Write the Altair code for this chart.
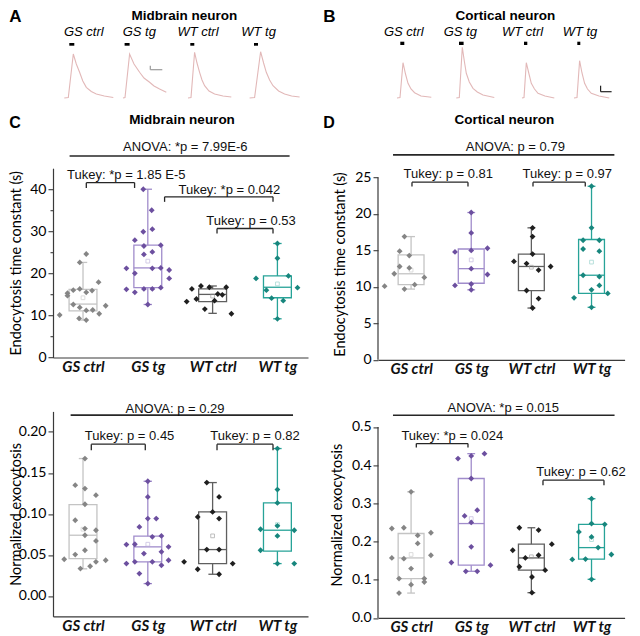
import altair as alt
import pandas as pd

GROUPS = ["GS ctrl", "GS tg", "WT ctrl", "WT tg"]
POINT_COLORS = ["#858585", "#6c4f9f", "#1f1f1f", "#17867d"]
BOX_COLORS = ["#c4c4c4", "#a08ccb", "#5f5f5f", "#27a398"]
MEAN_COLORS = ["#c8c8c8", "#bcb0da", "#9a9a9a", "#8fcfc8"]
TRACE_COLOR = "#e2b8b8"

# ---------------- Panel A / B : example traces (arbitrary units) ----------------
A_TRACE_ONSET = [11.3, 70.0, 135.0, 196.6]
A_TRACE_T = [
    [0, 4, 9, 12, 15.3, 18.5, 22, 27, 32, 40, 49],
    [0, 2, 6.6, 11, 16.6, 21, 26.6, 31, 36.6, 43.3],
    [0, 3, 6.6, 9, 11.6, 14, 16.6, 21, 26.6, 35, 43.3],
    [0, 5, 11, 14, 16.7, 20, 23.4, 29, 35, 42, 50],
]
A_TRACE_AMP = [
    [0, 0.5, 44, 34, 25.7, 17, 10.7, 6.5, 4, 2, 0.5],
    [0, 0.5, 44, 34, 25.7, 20, 15.7, 12, 9, 5.7],
    [0, 0.5, 45.7, 35, 25.7, 18, 12.3, 7, 4, 2, 1],
    [0, 0.5, 46.3, 35, 25.7, 18, 12.3, 7, 4, 2, 1],
]
A_STIM_ON = [16.3, 71.6, 137.3, 201.0]
A_STIM_OFF = [21.3, 76.6, 141.3, 205.0]
A_STIM_AMP = [52.3, 55.0]
A_LABEL_X = [30.8, 86.3, 145.0, 205.6]
A_SCALEBAR = [97.3, 109.3, 28.3, 32.3]

B_TRACE_ONSET = [19.0, 78.3, 144.0, 196.0]
B_TRACE_T = [
    [0, 3, 6, 8.5, 11, 14, 17.6, 24, 34.3],
    [0, 3, 6, 8, 10, 13, 16.7, 21, 26.7, 38],
    [0, 2, 4.3, 7, 9.3, 12.5, 16, 23, 32.3],
    [0, 3, 5.6, 8, 10.6, 13.5, 17.3, 25, 35.3],
]
B_TRACE_AMP = [
    [0, 0.5, 35.3, 24, 14.7, 9, 5.3, 2, 0.7],
    [0, 0.5, 50.7, 37, 24.7, 16, 9.7, 6, 3, 0.5],
    [0, 0.5, 35.3, 24, 14.7, 9, 4.7, 2, 0],
    [0, 0.5, 37.3, 25, 14.7, 9, 4.7, 2, 0],
]
B_STIM_ON = [22.3, 81.0, 146.0, 199.3]
B_STIM_OFF = [26.3, 85.6, 149.3, 202.3]
B_STIM_AMP = [53.0, 56.3]
B_LABEL_X = [25.8, 82.3, 144.6, 202.0]
B_SCALEBAR = [222.6, 233.6, 6.3, 12.3]
TRACE_LABEL_AMP = 66

# ---------------- Panel C (top): midbrain endocytosis tau (s) ----------------
C_TAU_VALUES = [
    [10.1, 15.3, 14.7, 16.0, 12.6, 16.3, 11.9, 9.3, 8.9, 15.5, 11.2, 22.6, 24.6, 15.9, 11.3, 17.9, 10.4, 12.3],
    [21.2, 20.0, 29.9, 30.5, 27.9, 26.5, 24.5, 25.1, 26.7, 21.2, 21.3, 20.8, 18.8, 16.2, 15.5, 16.3, 16.3, 16.6, 12.6, 40.0, 35.0],
    [13.3, 16.3, 13.9, 17.0, 11.5, 16.7, 15.1, 13.5, 14.9, 16.7, 10.4],
    [18.8, 16.0, 14.1, 27.1, 23.6, 9.2, 13.5, 19.4, 16.6],
]
C_TAU_JITTER = [
    [-0.36, -0.24, -0.24, -0.15, -0.15, -0.05, -0.05, -0.06, 0.05, 0.05, 0.05, -0.05, 0.05, 0.14, 0.15, 0.24, 0.25, 0.35],
    [-0.33, -0.20, -0.07, 0.07, -0.20, -0.06, -0.06, 0.07, 0.20, 0.07, 0.20, 0.33, 0.33, -0.33, -0.20, -0.06, 0.07, 0.20, 0.0, -0.07, 0.06],
    [-0.40, -0.32, -0.25, -0.18, -0.12, -0.05, 0.08, 0.03, 0.15, 0.21, 0.29],
    [-0.33, -0.17, -0.09, 0.0, 0.0, 0.0, 0.09, 0.17, 0.31],
]
# [whisker low, Q1, median, Q3, whisker high, mean]
C_TAU_STATS = [
    [8.9, 11.1, 12.7, 16.2, 22.6, 14.2],
    [12.6, 16.6, 21.3, 26.7, 40.0, 22.9],
    [10.5, 13.3, 15.0, 16.3, 17.0, 14.6],
    [9.2, 14.2, 16.7, 19.4, 27.1, 17.5],
]
C_TAU_ANOVA = ["ANOVA: *p = 7.99E-6", -0.207, 3.188, 47.9, 1.579, 50.0]
C_TAU_TUKEY = [
    ["Tukey: *p = 1.85 E-5", 0.051, 0.796, 41.57, 40.3, 0.668, 43.5],
    ["Tukey: *p = 0.042", 1.259, 2.932, 38.2, 37.0, 2.258, 39.9],
    ["Tukey: p = 0.53", 2.068, 2.932, 30.66, 29.5, 2.593, 32.4],
]

# ---------------- Panel D (top): cortical endocytosis tau (s) ----------------
D_TAU_VALUES = [
    [10.1, 11.8, 14.9, 16.9, 12.8, 9.7, 12.6, 14.3, 10.3, 11.3],
    [10.2, 14.8, 20.2, 17.4, 15.0, 12.5, 10.4, 9.6, 15.3, 11.7],
    [13.5, 13.2, 18.1, 16.9, 14.5, 12.3, 12.8, 9.5, 8.4, 7.1],
    [23.8, 18.1, 16.4, 16.4, 15.2, 14.9, 11.6, 11.4, 10.2, 9.6, 8.5, 9.1, 7.2],
]
D_TAU_JITTER = [
    [-0.44, -0.28, -0.19, -0.11, -0.19, -0.11, -0.03, -0.03, 0.06, 0.22],
    [-0.27, -0.27, 0.0, 0.0, 0.0, 0.0, 0.0, 0.0, 0.27, 0.27],
    [-0.29, -0.08, 0.02, 0.02, 0.02, 0.12, 0.32, -0.08, 0.12, 0.02],
    [0.0, 0.0, -0.14, 0.13, -0.14, 0.13, -0.14, 0.13, 0.13, 0.0, -0.29, 0.27, 0.0],
]
D_TAU_STATS = [
    [9.7, 10.3, 11.8, 14.4, 16.9, 12.3],
    [9.6, 10.5, 12.5, 15.2, 20.2, 13.7],
    [7.1, 9.5, 12.8, 14.5, 18.1, 12.7],
    [7.2, 9.1, 11.6, 16.5, 23.8, 13.4],
]
D_TAU_ANOVA = ["ANOVA: p = 0.79", -0.30, 3.38, 28.11, 1.733, 29.25]
D_TAU_TUKEY = [
    ["Tukey: p = 0.81", 0.015, 0.946, 24.36, 23.77, 0.619, 25.5],
    ["Tukey: p = 0.97", 2.027, 2.896, 24.36, 23.77, 2.597, 25.5],
]

# ---------------- Panel C (bottom): midbrain normalized exocytosis ----------------
C_EXO_VALUES = [
    [0.0447, 0.135, 0.0923, 0.0504, 0.0333, 0.1675, 0.1309, 0.1118, 0.0821, 0.074, 0.0557, 0.0362, 0.1228, 0.0801, 0.0671, 0.0415, 0.0435],
    [0.0626, 0.0394, 0.063, 0.0415, 0.0841, 0.0272, 0.0516, 0.1398, 0.1207, 0.0943, 0.015, 0.072, 0.0415, 0.0943, 0.0732, 0.0537, 0.0374, 0.0598, 0.0435],
    [0.0415, 0.0325, 0.0963, 0.1382, 0.0565, 0.1024, 0.0943, 0.0565, 0.0264, 0.1207, 0.0394],
    [0.0557, 0.0813, 0.1797, 0.1297, 0.1134, 0.0854, 0.0732, 0.0394, 0.0801, 0.0394],
]
C_EXO_JITTER = [
    [-0.29, -0.12, -0.12, -0.12, -0.04, 0.03, 0.03, 0.03, 0.03, 0.03, 0.03, 0.11, 0.2, 0.2, 0.2, 0.2, 0.35],
    [-0.33, -0.33, -0.2, -0.2, -0.13, -0.13, -0.06, 0.0, 0.0, 0.0, 0.0, 0.07, 0.07, 0.13, 0.21, 0.21, 0.21, 0.32, 0.32],
    [-0.44, -0.23, -0.23, -0.09, -0.09, 0.0, 0.1, 0.1, 0.1, 0.1, 0.31],
    [-0.26, -0.26, 0.0, 0.0, 0.0, 0.0, 0.0, 0.0, 0.26, 0.26],
]
C_EXO_STATS = [
    [0.033, 0.0455, 0.074, 0.1114, 0.1675, 0.0813],
    [0.015, 0.0415, 0.0598, 0.0728, 0.1398, 0.063],
    [0.0264, 0.0394, 0.0565, 0.1024, 0.1382, 0.0732],
    [0.0394, 0.0545, 0.0801, 0.1134, 0.1797, 0.087],
]
C_EXO_ANOVA = ["ANOVA: p = 0.29", -0.191, 3.241, 0.2204, 1.42, 0.2284]
C_EXO_TUKEY = [
    ["Tukey: p = 0.45", 0.128, 0.961, 0.185, 0.1777, 0.719, 0.195],
    ["Tukey: p = 0.82", 2.068, 2.932, 0.185, 0.1777, 2.654, 0.195],
]

# ---------------- Panel D (bottom): cortical normalized exocytosis ----------------
D_EXO_VALUES = [
    [0.234, 0.157, 0.103, 0.065, 0.236, 0.155, 0.33, 0.129, 0.087, 0.216, 0.195, 0.103, 0.094, 0.223, 0.164],
    [0.145, 0.417, 0.122, 0.424, 0.365, 0.25, 0.186, 0.267, 0.282, 0.122, 0.43, 0.138],
    [0.177, 0.236, 0.134, 0.157, 0.107, 0.066, 0.164, 0.23, 0.125, 0.193],
    [0.153, 0.225, 0.154, 0.312, 0.247, 0.212, 0.101, 0.184, 0.245, 0.166],
]
D_EXO_JITTER = [
    [-0.32, -0.32, -0.2, -0.2, -0.12, -0.12, 0.0, 0.0, 0.0, 0.11, 0.11, 0.22, 0.22, 0.33, 0.33],
    [-0.33, -0.22, -0.09, 0.0, 0.0, 0.0, 0.0, -0.11, 0.1, 0.1, 0.22, 0.32],
    [-0.31, -0.2, -0.2, -0.1, 0.01, 0.01, 0.12, 0.12, 0.23, 0.34],
    [-0.32, -0.21, -0.1, 0.0, 0.0, 0.0, 0.0, 0.11, 0.22, 0.33],
]
D_EXO_STATS = [
    [0.065, 0.103, 0.157, 0.221, 0.33, 0.166],
    [0.122, 0.138, 0.247, 0.365, 0.43, 0.26],
    [0.066, 0.125, 0.157, 0.193, 0.236, 0.16],
    [0.101, 0.154, 0.184, 0.245, 0.312, 0.205],
]
D_EXO_ANOVA = ["ANOVA: *p = 0.015", -0.301, 3.383, 0.5306, 1.533, 0.5497]
D_EXO_TUKEY = [
    ["Tukey: *p = 0.024", 0.087, 0.946, 0.4563, 0.4458, 0.685, 0.4764],
    ["Tukey: p = 0.62", 2.193, 3.207, 0.3605, 0.3474, 2.825, 0.3822],
]

AX_COLOR = "#3a3a3a"
ANNOT_FONT = "Liberation Sans"
AXIS_FONT = "Lato"


def fixed_text(text, x, y, size, weight="normal", align="center", baseline="middle"):
    return alt.Chart(pd.DataFrame({"s": [text]})).mark_text(
        font=ANNOT_FONT, fontSize=size, fontWeight=weight, align=align,
        baseline=baseline, color="#000"
    ).encode(x=alt.value(x), y=alt.value(y), text="s:N")


def trace_panel(onsets, times, amps, s_on, s_off, s_amp, label_x, sbar, sbar_color,
                width, height, letter, letter_x, title, title_x):
    xs = alt.Scale(domain=[0, width], nice=False, zero=False)
    ys = alt.Scale(domain=[-18.5, 67], nice=False, zero=False)
    rows = []
    for k in range(4):
        for t, a in zip(times[k], amps[k]):
            rows.append({"k": k, "t": onsets[k] + t, "a": a})
    tr = alt.Chart(pd.DataFrame(rows)).mark_line(color=TRACE_COLOR, strokeWidth=1.1).encode(
        x=alt.X("t:Q", scale=xs, axis=None), y=alt.Y("a:Q", scale=ys, axis=None), detail="k:N")
    stim = alt.Chart(pd.DataFrame({"x": s_on, "x2": s_off, "y": [s_amp[0]] * 4, "y2": [s_amp[1]] * 4})).mark_rect(
        color="#000").encode(x=alt.X("x:Q", scale=xs, axis=None), x2="x2:Q",
                             y=alt.Y("y:Q", scale=ys, axis=None), y2="y2:Q")
    labs = alt.Chart(pd.DataFrame({"x": label_x, "y": [TRACE_LABEL_AMP] * 4, "s": GROUPS})).mark_text(
        font=ANNOT_FONT, fontSize=13, fontStyle="italic", color="#000").encode(
        x=alt.X("x:Q", scale=xs, axis=None), y=alt.Y("y:Q", scale=ys, axis=None), text="s:N")
    sb = pd.DataFrame({"x": [sbar[0], sbar[0]], "x2": [sbar[0], sbar[1]],
                       "y": [sbar[2], sbar[2]], "y2": [sbar[3], sbar[2]]})
    scalebar = alt.Chart(sb).mark_rule(color=sbar_color, strokeWidth=1.2).encode(
        x=alt.X("x:Q", scale=xs, axis=None), x2="x2:Q", y=alt.Y("y:Q", scale=ys, axis=None), y2="y2:Q")
    return alt.layer(
        tr, stim, labs, scalebar,
        fixed_text(letter, letter_x, -22, 17, "bold", "left", "top"),
        fixed_text(title, title_x, -15.5, 13.5, "bold"),
    ).properties(width=width, height=height)


def box_panel(values, jitter, stats, xdom, ydom, width, height, ytitle, ytitle_x,
              yvalues, major_step, yfmt, anova, tukey, yline_top=None,
              letter=None, letter_x=0, title=None, title_x=0, minor=False):
    xs = alt.Scale(domain=xdom, nice=False, zero=False)
    ys = alt.Scale(domain=ydom, nice=False, zero=False)
    expr = "[" + ",".join("'%s'" % g for g in GROUPS) + "][datum.value]"
    xaxis = alt.Axis(values=[0, 1, 2, 3], labelExpr=expr, ticks=False, labelPadding=2,
                     labelFont=AXIS_FONT, labelFontSize=15, labelFontWeight="bold",
                     labelFontStyle="italic", labelColor="#111", domainColor=AX_COLOR,
                     domainWidth=1.2, grid=False, title=None)
    major_test = "abs(datum.value/%s - round(datum.value/%s)) < 0.001" % (major_step, major_step)
    yaxis_kw = dict(values=yvalues, format=yfmt, grid=False, title=ytitle, titleX=ytitle_x,
                    titleBaseline="middle", titleFont=AXIS_FONT, titleFontSize=14.5,
                    titleFontWeight="normal", titleColor="#000", labelFont=AXIS_FONT,
                    labelFontSize=14, labelColor="#000", labelPadding=2,
                    domainColor=AX_COLOR, domainWidth=1.2, tickColor=AX_COLOR, tickWidth=1.1,
                    domain=(yline_top is None))
    if minor:
        yaxis_kw["labelExpr"] = "(%s) ? datum.label : ''" % major_test
        yaxis_kw["tickSize"] = {"condition": {"test": major_test, "value": 5}, "value": 3}
    else:
        yaxis_kw["tickSize"] = 5
    yaxis = alt.Axis(**yaxis_kw)

    def X(f):
        return alt.X(f + ":Q", scale=xs, axis=xaxis)

    def Y(f):
        return alt.Y(f + ":Q", scale=ys, axis=yaxis)

    pts = pd.DataFrame([{"x": g + j, "y": v, "pc": POINT_COLORS[g]}
                        for g in range(4) for v, j in zip(values[g], jitter[g])])
    hw, cw = 0.215, 0.065
    st = pd.DataFrame([{"xc": g, "xl": g - hw, "xr": g + hw, "cl": g - cw, "cr": g + cw,
                        "lo": s[0], "q1": s[1], "med": s[2], "q3": s[3], "hi": s[4], "mean": s[5],
                        "bc": BOX_COLORS[g], "mc": MEAN_COLORS[g]} for g, s in enumerate(stats)])
    base = alt.Chart(st)
    bc = alt.Color("bc:N", scale=None)
    boxes = base.mark_rect(fillOpacity=0, strokeWidth=1.3).encode(
        x=X("xl"), x2="xr:Q", y=Y("q1"), y2="q3:Q", stroke=alt.Stroke("bc:N", scale=None))
    wlo = base.mark_rule(strokeWidth=1.3).encode(x=X("xc"), y=Y("lo"), y2="q1:Q", color=bc)
    whi = base.mark_rule(strokeWidth=1.3).encode(x=X("xc"), y=Y("q3"), y2="hi:Q", color=bc)
    caplo = base.mark_rule(strokeWidth=1.3).encode(x=X("cl"), x2="cr:Q", y=Y("lo"), color=bc)
    caphi = base.mark_rule(strokeWidth=1.3).encode(x=X("cl"), x2="cr:Q", y=Y("hi"), color=bc)
    med = base.mark_rule(strokeWidth=1.3).encode(x=X("xl"), x2="xr:Q", y=Y("med"), color=bc)
    mean = base.mark_point(shape="square", size=14, filled=False, strokeWidth=0.9).encode(
        x=X("xc"), y=Y("mean"), color=alt.Color("mc:N", scale=None))
    dots = alt.Chart(pts).mark_point(shape="diamond", filled=True, size=34, opacity=1).encode(
        x=X("x"), y=Y("y"), color=alt.Color("pc:N", scale=None))

    seg = [{"x": anova[1], "x2": anova[2], "y": anova[3], "y2": anova[3], "w": 1.6}]
    txt = [{"x": anova[4], "y": anova[5], "s": anova[0]}]
    for t in tukey:
        seg.append({"x": t[1], "x2": t[2], "y": t[3], "y2": t[3], "w": 1.3})
        seg.append({"x": t[1], "x2": t[1], "y": t[3], "y2": t[4], "w": 1.3})
        seg.append({"x": t[2], "x2": t[2], "y": t[3], "y2": t[4], "w": 1.3})
        txt.append({"x": t[5], "y": t[6], "s": t[0]})
    segs = alt.Chart(pd.DataFrame(seg)).mark_rule(color="#262626").encode(
        x=X("x"), x2="x2:Q", y=Y("y"), y2="y2:Q", strokeWidth=alt.StrokeWidth("w:Q", scale=None))
    texts = alt.Chart(pd.DataFrame(txt)).mark_text(font=ANNOT_FONT, fontSize=13, color="#111").encode(
        x=X("x"), y=Y("y"), text="s:N")
    layers = [boxes, wlo, whi, caplo, caphi, med, mean, dots, segs, texts]
    if yline_top is not None:
        yl = alt.Chart(pd.DataFrame({"x": [xdom[0]], "y": [0], "y2": [yline_top]})).mark_rule(
            color=AX_COLOR, strokeWidth=1.2).encode(x=X("x"), y=Y("y"), y2="y2:Q")
        layers.append(yl)
    if letter:
        layers.append(fixed_text(letter, letter_x, -53.4, 16, "bold", "left", "top"))
    if title:
        layers.append(fixed_text(title, title_x, -48.4, 13.5, "bold"))
    return alt.layer(*layers).properties(width=width, height=height)


W1, W2 = 255, 246.6
panel_a = trace_panel(A_TRACE_ONSET, A_TRACE_T, A_TRACE_AMP, A_STIM_ON, A_STIM_OFF, A_STIM_AMP,
                      A_LABEL_X, A_SCALEBAR, "#9a9a9a", W1, 85.5, "A", -43.7, "Midbrain neuron", 131.3)
panel_b = trace_panel(B_TRACE_ONSET, B_TRACE_T, B_TRACE_AMP, B_STIM_ON, B_STIM_OFF, B_STIM_AMP,
                      B_LABEL_X, B_SCALEBAR, "#222222", W2, 85.5, "B", -54.7, "Cortical neuron", 127.3)

panel_c = box_panel(C_TAU_VALUES, C_TAU_JITTER, C_TAU_STATS, [-0.463, 3.472], [0, 45], W1, 189.3,
                    "Endocytosis time constant (s)", -36.7,
                    [0, 5, 10, 15, 20, 25, 30, 35, 40], 10, "d", C_TAU_ANOVA, C_TAU_TUKEY,
                    letter="C", letter_x=-43.7, title="Midbrain neuron", title_x=129, minor=True)
panel_d = box_panel(D_TAU_VALUES, D_TAU_JITTER, D_TAU_STATS, [-0.55, 3.55], [0, 26.28], W2, 191.6,
                    "Endocytosis time constant (s)", -37.7,
                    [0, 5, 10, 15, 20, 25], 5, "d", D_TAU_ANOVA, D_TAU_TUKEY, yline_top=25,
                    letter="D", letter_x=-54.7, title="Cortical neuron", title_x=126.3)
panel_c2 = box_panel(C_EXO_VALUES, C_EXO_JITTER, C_EXO_STATS, [-0.463, 3.472], [-0.025, 0.225], W1, 205,
                     "Normalized exocytosis", -36.7,
                     [0.0, 0.05, 0.10, 0.15, 0.20], 0.05, ".2f", C_EXO_ANOVA, C_EXO_TUKEY)
panel_d2 = box_panel(D_EXO_VALUES, D_EXO_JITTER, D_EXO_STATS, [-0.55, 3.55], [0, 0.5406], W2, 206.5,
                     "Normalized exocytosis", -40.7,
                     [0.0, 0.1, 0.2, 0.3, 0.4, 0.5], 0.1, ".1f", D_EXO_ANOVA, D_EXO_TUKEY, yline_top=0.5)

chart = alt.concat(
    panel_a, panel_b, panel_c, panel_d, panel_c2, panel_d2,
    columns=2, spacing={"row": 51.2, "column": 70}, bounds="flush", align="each",
).properties(
    padding={"left": 0, "top": 0, "right": 4, "bottom": 0}
).configure_view(stroke=None).configure_axis(grid=False)

chart.save("out.html", embed_options={"renderer": "svg", "actions": False})
